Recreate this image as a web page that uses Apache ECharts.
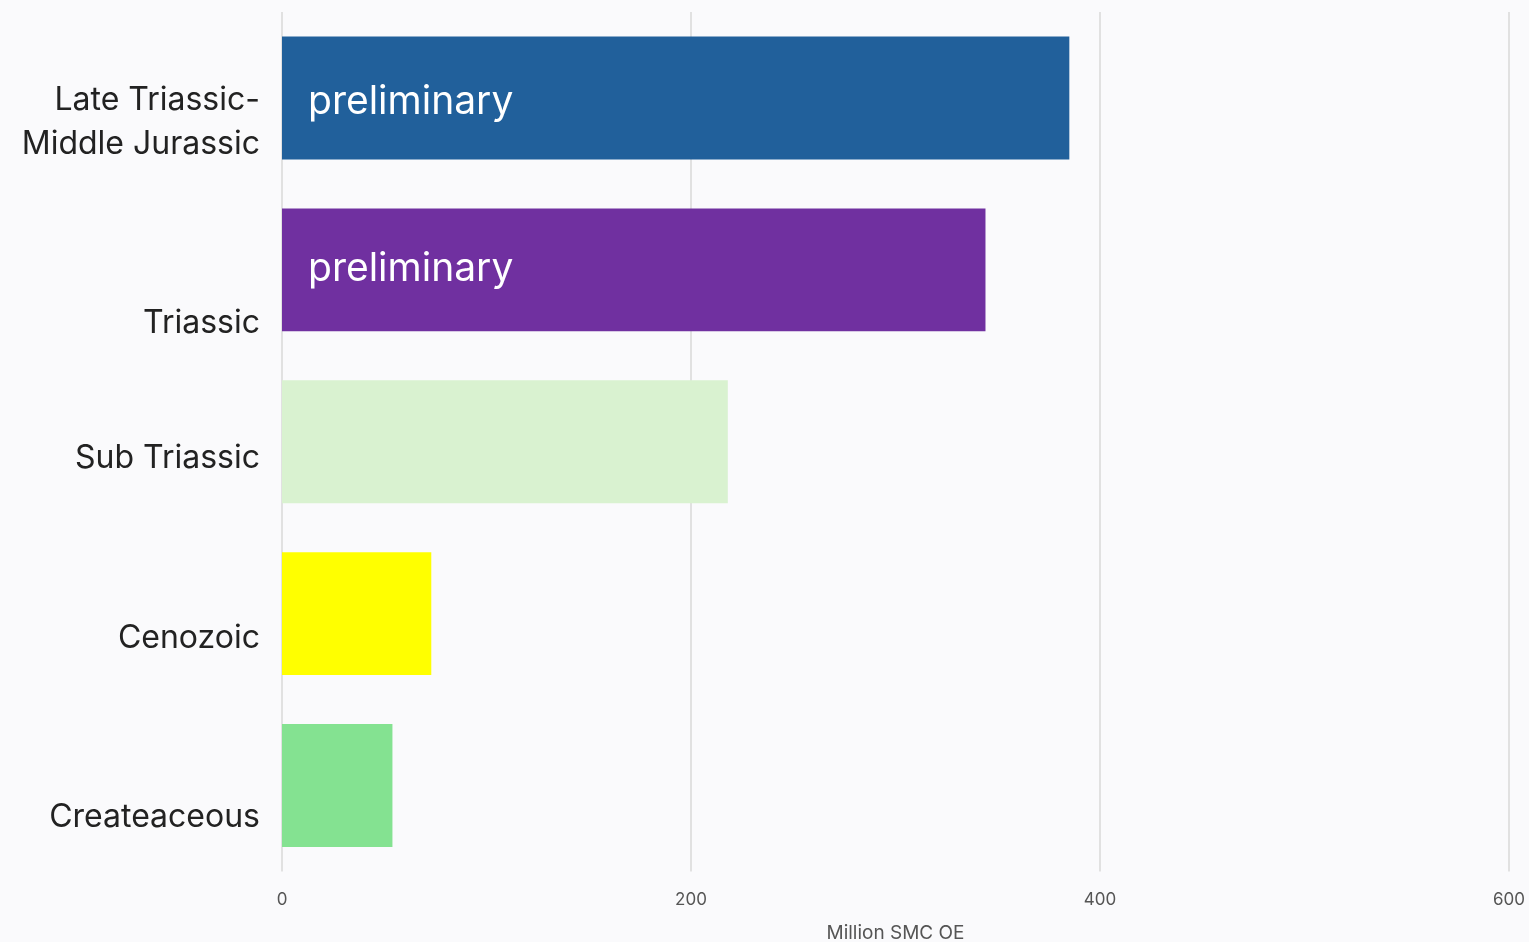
<!DOCTYPE html>
<html>
<head>
<meta charset="utf-8">
<script src="https://cdn.jsdelivr.net/npm/echarts@6/dist/echarts.min.js"></script>
<style>
html,body{margin:0;padding:0;background:#FAFAFC;}
#chart{width:1529px;height:942px;}
</style>
</head>
<body>
<div id="chart"></div>
<script>
const categories = ['Late Triassic-\nMiddle Jurassic', 'Triassic', 'Sub Triassic', 'Cenozoic', 'Createaceous'];
const values = [385, 344, 218, 73, 54];
const barColors = ['#21609B', '#7030A0', '#D9F2D0', '#FFFF00', '#84E291'];
const barLabels = ['preliminary', 'preliminary', '', '', ''];
const labelShift = [49, 107, 33, 49, 63];
const barLabelNudge = [4, -1, 0, 0, 0];
const xTicks = [0, 200, 400, 600];

const rich = {t: {fontSize: 32, color: '#222', lineHeight: 44, fontFamily: 'Inter', align: 'right'}};
labelShift.forEach((s, i) => { rich['g' + i] = {fontSize: 10, lineHeight: s, align: 'right'}; });

const chart = echarts.init(document.getElementById('chart'));
chart.setOption({
  backgroundColor: '#FAFAFC',
  animation: false,
  grid: {left: 282, right: 20, top: 12, bottom: 70.5, containLabel: false, outerBoundsMode: 'none'},
  xAxis: {
    type: 'value', min: xTicks[0], max: xTicks[xTicks.length - 1], interval: 200,
    name: 'Million SMC OE', nameLocation: 'middle', nameGap: 52,
    nameTextStyle: {fontSize: 19, color: '#555', fontFamily: 'Inter'},
    axisLine: {show: false}, axisTick: {show: false},
    axisLabel: {fontSize: 17, color: '#555', margin: 20, fontFamily: 'Inter'},
    splitLine: {lineStyle: {color: '#D9D9D9', width: 1.5}}
  },
  yAxis: {
    type: 'category', inverse: true,
    data: categories,
    axisLine: {show: false}, axisTick: {show: false},
    axisLabel: {
      margin: 22, align: 'right',
      formatter: (v, i) => '{g' + i + '| }\n' + v.split('\n').map(s => '{t|' + s + '}').join('\n'),
      rich: rich
    }
  },
  series: [{
    type: 'bar',
    barCategoryGap: '28.5%',
    data: values.map((v, i) => ({value: v, itemStyle: {color: barColors[i]},
      label: {show: !!barLabels[i], formatter: barLabels[i], offset: [0, barLabelNudge[i]]}})),
    label: {position: 'insideLeft', distance: 26, color: '#FFFFFF', fontSize: 39, fontFamily: 'Inter'}
  }]
});
</script>
</body>
</html>
